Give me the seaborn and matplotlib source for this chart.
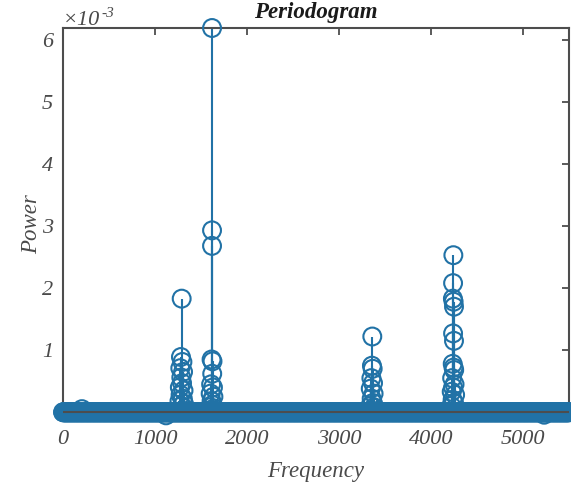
import numpy as np
import pandas as pd
import matplotlib
matplotlib.use("Agg")
import matplotlib.pyplot as plt
import seaborn as sns

# ---------------- data (power in units of 1e-3) ----------------
fs_half = 5500.0
base_step = 5.0  # frequency bin spacing of the near-zero floor

c1_freq = [1290, 1282, 1298, 1275, 1305, 1286, 1294, 1270, 1310, 1278, 1302, 1266, 1314, 1290]
c1_pow = [1.83, 0.89, 0.81, 0.71, 0.65, 0.56, 0.47, 0.40, 0.35, 0.28, 0.22, 0.18, 0.14, 0.10]

c2_freq = [1620, 1620, 1620, 1615, 1625, 1622, 1610, 1630, 1605, 1635, 1615, 1625, 1600, 1640]
c2_pow = [6.19, 2.93, 2.68, 0.85, 0.82, 0.62, 0.45, 0.40, 0.30, 0.25, 0.18, 0.12, 0.08, 0.06]

c3_freq = [3362, 3358, 3366, 3352, 3370, 3345, 3376, 3355, 3368, 3340, 3382]
c3_pow = [1.22, 0.75, 0.70, 0.55, 0.47, 0.38, 0.30, 0.22, 0.15, 0.10, 0.08]

c4_freq = [4243, 4240, 4238, 4246, 4250, 4240, 4250, 4236, 4245, 4252, 4230, 4256,
           4240, 4225, 4262, 4235, 4250, 4220]
c4_pow = [2.53, 2.08, 1.83, 1.78, 1.70, 1.27, 1.15, 0.78, 0.72, 0.68, 0.55, 0.45,
          0.40, 0.33, 0.28, 0.20, 0.15, 0.10]

small_freq = [206, 1120, 5230]
small_pow = [0.05, -0.05, -0.04]

xticks = [0, 1000, 2000, 3000, 4000, 5000]
yticks = [1, 2, 3, 4, 5, 6]

# floor of the periodogram (values read as ~0)
floor_freq = np.arange(0, fs_half + base_step, base_step)
floor_pow = np.zeros_like(floor_freq)

freq = np.concatenate([floor_freq, small_freq, c1_freq, c2_freq, c3_freq, c4_freq])
power = np.concatenate([floor_pow, small_pow, c1_pow, c2_pow, c3_pow, c4_pow]) * 1e-3
df = pd.DataFrame({"Frequency": freq, "Power": power})

# ---------------- style ----------------
sns.set_theme(style="white")
plt.rcParams["font.family"] = ["Liberation Serif", "DejaVu Serif"]
plt.rcParams["font.style"] = "italic"

blue = "#2172a6"
axcol = "#4d4d4d"
txtcol = "#4a4a4a"

fig = plt.figure(figsize=(5.71, 4.82), dpi=100)
ax = fig.add_axes([63 / 571, (482 - 420) / 482, (569 - 63) / 571, (420 - 28) / 482])

# stems
ax.vlines(df["Frequency"], 0, df["Power"], color=blue, linewidth=1.5, zorder=2)
# markers
sns.scatterplot(data=df, x="Frequency", y="Power", ax=ax, marker="o", s=165,
                facecolor="none", edgecolor=blue, linewidth=1.5, zorder=3, legend=False)
ax.collections[-1].set_clip_on(False)
# baseline
ax.axhline(0, color=axcol, linewidth=1.5, zorder=4)

ax.set_xlim(0, fs_half)
ax.set_ylim(-0.125e-3, 6.19e-3)
ax.set_xticks(xticks)
ax.set_xticklabels([str(t) for t in xticks])
ax.set_yticks([t * 1e-3 for t in yticks])
ax.set_yticklabels([str(t) for t in yticks])

for s in ax.spines.values():
    s.set_color(axcol)
    s.set_linewidth(1.5)
ax.tick_params(direction="in", length=5, width=1.3, color=axcol, top=True, right=True,
               labelsize=16, labelcolor=txtcol, pad=7)
for lab in ax.get_xticklabels() + ax.get_yticklabels():
    lab.set_fontstyle("italic")

ax.set_xlabel("Frequency", fontsize=16.5, color=txtcol, style="italic", labelpad=9)
ax.set_ylabel("Power", fontsize=16.5, color=txtcol, style="italic", labelpad=0)
ax.set_title("Periodogram", fontsize=16.5, fontweight="bold", style="italic",
             color="#1a1a1a", pad=7)

# exponent marker
ax.text(0.0, 1.008, "×10", transform=ax.transAxes, fontsize=16, color=txtcol,
        style="italic", ha="left", va="baseline")
ax.text(0.075, 1.028, "-3", transform=ax.transAxes, fontsize=11, color=txtcol,
        style="italic", ha="left", va="baseline")

fig.savefig("out.png", dpi=100)
